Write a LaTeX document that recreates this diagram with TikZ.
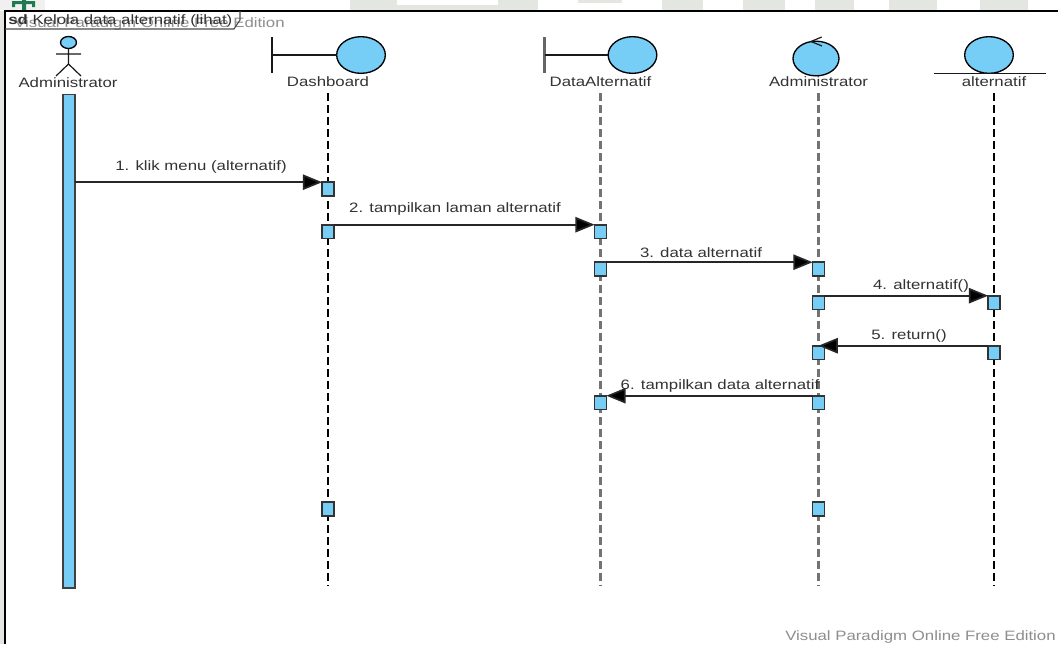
\documentclass[tikz,border=0pt]{standalone}
\usepackage{fontspec}
\setmainfont[FakeStretch=1.235]{Liberation Sans}
\usetikzlibrary{arrows.meta,shapes.geometric}
\definecolor{fillb}{HTML}{76CDF5}
\definecolor{txt}{HTML}{333333}
\definecolor{wm}{HTML}{8E8E8E}
\definecolor{stripe}{HTML}{E4E6E1}
\definecolor{greenicon}{HTML}{1F7A50}
\tikzset{
 x=0.75pt,y=-0.75pt,
 lbl/.style={font=\fontsize{10.2pt}{12pt}\selectfont,text=txt,inner sep=0pt,anchor=center},
 wmark/.style={font=\fontsize{10.2pt}{12pt}\selectfont,text=wm,inner sep=0pt,anchor=west},
 life/.style={draw=black,line width=0.9pt,dash pattern=on 6.2pt off 2.8pt},
 lifeg/.style={draw=black!55,line width=1.7pt,dash pattern=on 6.2pt off 2.8pt},
 act/.style={draw=black!80,fill=fillb,line width=1.2pt,minimum width=8.8pt,minimum height=10.2pt,inner sep=0pt,outer sep=0pt},
 msg/.style={draw=black!85,line width=1.3pt,-{Triangle[length=14.5pt,width=11.5pt,fill=black]}},
 ball/.style={draw=black,fill=fillb,line width=1pt,ellipse,inner sep=0pt,outer sep=0pt,minimum width=36.5pt,minimum height=27.5pt},
 strip/.style={fill=stripe,draw=none},
 stick/.style={draw=black!90,line width=0.9pt},
}
\begin{document}
\begin{tikzpicture}
\useasboundingbox (0,0) rectangle (1058,644);
% background slivers
\fill[white] (0,0) rectangle (1058,644);
\foreach \a/\b in {350/538,662/703,743/785,815/854,889/937,980/1028}
  \fill[strip] (\a,0) rectangle (\b,10);
\fill[white] (397,0) rectangle (498,5);
\fill[stripe] (578,0) rectangle (622,3);
\fill[black!6] (0,0) rectangle (45,10);
\fill[stripe] (0,11) rectangle (5,644);
\fill[greenicon] (12,1) rectangle (35,4) (22,0) rectangle (26,10) (12,3) rectangle (15,7) (32,3) rectangle (35,7);
% frame
\draw[black,line width=1.1pt] (1058,11) -- (5,11) -- (5,644);
\node[wmark] (wm1) at (14,24) {Visual Paradigm Online Free Edition};
\node[wmark] (wm2) at (785,637) {Visual Paradigm Online Free Edition};
\draw[draw=black!70,line width=0.8pt] (5,29) -- (234,29) -- (240,20) -- (240,11);
\node[lbl,anchor=west] (title) at (8,20.5) {\textbf{sd} Kelola data alternatif (lihat)};
% actor
\node[ball,minimum width=12pt,minimum height=9pt] (head) at (68.5,42.5) {};
\coordinate (hip) at (68.5,64);
\coordinate (armL) at (56,54);
\coordinate (armR) at (81,54);
\coordinate (legL) at (56,76);
\coordinate (legR) at (81,76);
\draw[stick] (head.south) -- (hip) (armL) -- (armR) (legL) -- (hip) -- (legR);
\node[lbl] (n1) at (68,82.5) {Administrator};
\node[draw=black!75,fill=fillb,line width=1.4pt,minimum width=9pt,minimum height=370pt,inner sep=0pt,outer sep=0pt,anchor=north] (bar) at (68.7,94.5) {};
% lifelines
\coordinate (l2a) at (328,93);\coordinate (l2b) at (328,586);
\coordinate (l3a) at (600.5,93);\coordinate (l3b) at (600.5,586);
\coordinate (l4a) at (818.5,93);\coordinate (l4b) at (818.5,586);
\coordinate (l5a) at (994,93);\coordinate (l5b) at (994,586);
\draw[life] (l2a) -- (l2b);
\draw[lifeg] (l3a) -- (l3b);
\draw[lifeg] (l4a) -- (l4b);
\draw[life] (l5a) -- (l5b);
% boundary Dashboard
\node[ball] (b1) at (361,55) {};
\coordinate (b1t) at (272,37);\coordinate (b1b) at (272,73);\coordinate (b1m) at (272,55);
\draw[stick] (b1t) -- (b1b) (b1m) -- (b1.west);
\node[lbl] (n2) at (328,81.5) {Dashboard};
% boundary DataAlternatif
\node[ball] (b2) at (632.5,55) {};
\coordinate (b2t) at (544.5,37);\coordinate (b2b) at (544.5,73);\coordinate (b2m) at (544.5,55);
\draw[draw=black!60,line width=1.6pt] (b2t) -- (b2b);
\draw[stick] (b2m) -- (b2.west);
\node[lbl] (n3) at (600.5,81.5) {DataAlternatif};
% control
\node[ball,minimum width=34.5pt,minimum height=26pt] (c1) at (816,58.5) {};
\coordinate (ca) at (821.7,37);\coordinate (cb) at (811,41.5);\coordinate (cc) at (822,46);
\draw[stick] (ca) -- (cb) -- (cc);
\node[lbl] (n4) at (818.5,81.5) {Administrator};
% entity
\node[ball] (e1) at (989,55) {};
\coordinate (ea) at (934,73.5);\coordinate (eb) at (1046,73.5);
\draw[stick] (ea) -- (eb);
\node[lbl] (n5) at (994,81.5) {alternatif};
% activations
\foreach \n/\x/\y in {d1/328/189,d2/328/231.5,d3/328/509,
  p1/600.5/231.5,p2/600.5/269,p3/600.5/402.5,
  q1/818.5/269,q2/818.5/302.5,q3/818.5/352.5,q4/818.5/402.5,q5/818.5/509,
  r1/994/302.5,r2/994/352.5}
  \node[act] (\n) at (\x,\y) {};
% messages
\draw[msg] (bar.east |- d1.north) -- (d1.north west);
\draw[msg] (d2.north east) -- (p1.north west);
\draw[msg] (p2.north east) -- (q1.north west);
\draw[msg] (q2.north east) -- (r1.north west);
\draw[msg] (r2.north west) -- (q3.north);
\draw[msg] (q4.north west) -- (p3.north east);
\node[lbl] (m1) at (201,167) {1. klik menu (alternatif)};
\node[lbl] (m2) at (455,209) {2. tampilkan laman alternatif};
\node[lbl] (m3) at (701,253) {3. data alternatif};
\node[lbl] (m4) at (921,286) {4. alternatif()};
\node[lbl] (m5) at (909,336) {5. return()};
\node[lbl] (m6) at (720,386) {6. tampilkan data alternatif};
\end{tikzpicture}
\end{document}
